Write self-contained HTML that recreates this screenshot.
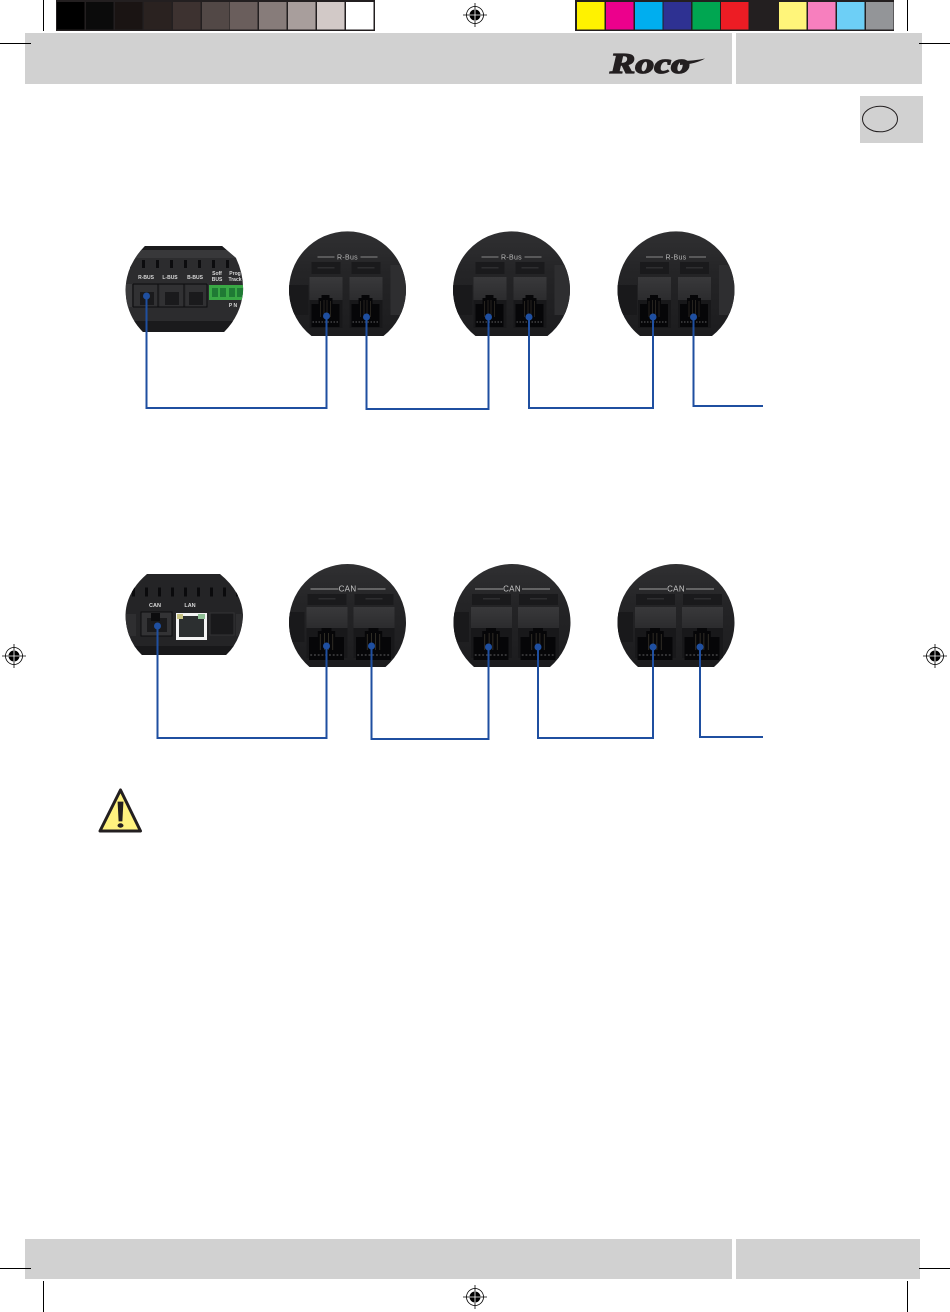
<!DOCTYPE html>
<html lang="en"><head><meta charset="utf-8"><title>Roco bus wiring</title>
<style>
html,body{margin:0;padding:0;background:#fff}
svg{display:block;font-family:"Liberation Sans",sans-serif}
</style></head><body>
<svg width="950" height="1312" viewBox="0 0 950 1312" xmlns="http://www.w3.org/2000/svg">
<defs>
<linearGradient id="bg" x1="0" y1="0" x2="0" y2="1"><stop offset="0" stop-color="#303032"/><stop offset=".4" stop-color="#242426"/><stop offset="1" stop-color="#1c1c1e"/></linearGradient>
<linearGradient id="hs" x1="0" y1="0" x2="0" y2="1"><stop offset="0" stop-color="#39393b"/><stop offset="1" stop-color="#2b2b2d"/></linearGradient>
<clipPath id="cR"><path d="M-36 46A58.500 58.500 0 1 1 36 46Z"/></clipPath>
<clipPath id="cC"><path d="M-38 45A58.500 58.500 0 1 1 38 45Z"/></clipPath>
<clipPath id="cU1"><path d="M145 246H222L236 258Q244 275 243 292Q241 315 224 332H143Q126 315 125.500 290Q126 265 145 246Z"/></clipPath>
<clipPath id="cU2"><path d="M147 574H220Q242 592 243 615Q242 640 226 655H142Q126 640 125.500 615Q126 592 147 574Z"/></clipPath>
<g id="reg" fill="none" stroke="#000">
<circle r="8.500" stroke-width=".8"/><circle r="5.500" fill="#000" stroke="none"/>
<path d="M-12 0H12M0-12V12" stroke-width=".8"/><path d="M-5.500 0H5.500M0-5.500V5.500" stroke="#fff" stroke-width=".8"/>
</g>
<g id="sock">
<path d="M-14 1h7v-6h3v-3h8v3h3v6h7v23h-28z" fill="#060608"/>
<path d="M-5 -2v16M-1.500 -3v17M1.500 -3v17M5 -2v16" stroke="#3c382e" stroke-width=".6"/>
<path d="M-13 19h26" stroke="#333335" stroke-width="2" stroke-dasharray="1.500 1.500"/>
</g>
<g id="jackR">
<rect x="-14" y="-28" width="29" height="12" fill="#1a1a1c"/><rect x="-8" y="-23" width="17" height="1.500" fill="#2e2e30"/>
<rect x="-16" y="-13" width="33" height="24" fill="url(#hs)"/>
<rect x="-16" y="10" width="33" height="28" fill="#18181a"/>
<use href="#sock" y="13"/>
</g>
<g id="busR">
<path d="M-36 46A58.500 58.500 0 1 1 36 46Z" fill="url(#bg)"/>
<g clip-path="url(#cR)">
<rect x="43" y="-25" width="16" height="50" fill="#2e2e30"/>
<rect x="-59" y="-5" width="20" height="30" fill="#19191b"/>
<use href="#jackR" x="-22"/><use href="#jackR" x="18"/>
</g>
<path d="M-30-33H-13M13-33H30" stroke="#a8a8a8" stroke-width=".8"/>
<text x="0" y="-30.500" font-size="7" fill="#b8b8b8" text-anchor="middle" letter-spacing=".3">R-Bus</text>
</g>
<g id="jackC">
<rect x="-19" y="-28" width="39" height="11" fill="#1a1a1c"/><rect x="-8" y="-24" width="17" height="1.500" fill="#2e2e30"/>
<rect x="-20" y="-15" width="41" height="22" fill="url(#hs)"/>
<rect x="-20" y="6" width="41" height="30" fill="#18181a"/>
<g transform="translate(0,14) scale(1.250,1)"><use href="#sock"/></g>
</g>
<g id="busC">
<path d="M-38 45A58.500 58.500 0 1 1 38 45Z" fill="url(#bg)"/>
<g clip-path="url(#cC)">
<rect x="-59" y="-10" width="16" height="30" fill="#19191b"/>
<use href="#jackC" x="-21"/><use href="#jackC" x="26"/>
</g>
<path d="M-37-33H-9M10-33H38" stroke="#c5c5c5" stroke-width=".8"/>
<text x="0" y="-30.500" font-size="8" fill="#c8c8c8" text-anchor="middle" letter-spacing=".3">CAN</text>
</g>
</defs>

<rect width="950" height="1312" fill="#fff"/>

<!-- colour strips -->
<rect x="56" y="0" width="319" height="31" fill="#231f20"/>
<g>
<rect x="57" y="2" width="27.500" height="27.500" fill="#000"/>
<rect x="86" y="2" width="27.500" height="27.500" fill="#0b0b0b"/>
<rect x="115" y="2" width="27.500" height="27.500" fill="#1a1413"/>
<rect x="144" y="2" width="27.500" height="27.500" fill="#2a2220"/>
<rect x="173" y="2" width="27.500" height="27.500" fill="#3d3230"/>
<rect x="202" y="2" width="27.500" height="27.500" fill="#524846"/>
<rect x="230" y="2" width="27.500" height="27.500" fill="#6a5e5c"/>
<rect x="259" y="2" width="27.500" height="27.500" fill="#877c7a"/>
<rect x="288" y="2" width="27.500" height="27.500" fill="#a89e9c"/>
<rect x="317" y="2" width="27.500" height="27.500" fill="#d2c9c7"/>
<rect x="346" y="2" width="27.500" height="27.500" fill="#fff"/>
</g>
<rect x="575" y="0" width="319" height="31" fill="#231f20"/>
<g>
<rect x="577" y="2" width="27.500" height="27.500" fill="#fff200"/>
<rect x="606" y="2" width="27.500" height="27.500" fill="#ec008c"/>
<rect x="635" y="2" width="27.500" height="27.500" fill="#00aeef"/>
<rect x="663.500" y="2" width="27.500" height="27.500" fill="#2e3192"/>
<rect x="692.500" y="2" width="27.500" height="27.500" fill="#00a651"/>
<rect x="721" y="2" width="27.500" height="27.500" fill="#ed1c24"/>
<rect x="750" y="2" width="27.500" height="27.500" fill="#231f20"/>
<rect x="779" y="2" width="27.500" height="27.500" fill="#fff57a"/>
<rect x="808" y="2" width="27.500" height="27.500" fill="#f77fbe"/>
<rect x="837" y="2" width="27.500" height="27.500" fill="#6dcff6"/>
<rect x="866" y="2" width="27.500" height="27.500" fill="#939598"/>
</g>

<!-- header / footer bands -->
<rect x="25" y="33" width="707" height="51" fill="#d1d1d1"/>
<rect x="736" y="33" width="186" height="51" fill="#d1d1d1"/>
<rect x="25" y="1239" width="707" height="40" fill="#d1d1d1"/>
<rect x="736" y="1239" width="184" height="40" fill="#d1d1d1"/>

<!-- logo -->
<text x="610" y="73" font-family="'Liberation Serif',serif" font-size="28" font-weight="700" font-style="italic" fill="#231f20" textLength="80" lengthAdjust="spacingAndGlyphs" stroke="#231f20" stroke-width="1.300">Roco</text>
<path d="M680 61Q694 61 705 58.500Q696 64 680 65Z" fill="#231f20"/>

<!-- language tab -->
<rect x="860" y="96" width="63" height="47" fill="#d1d1d1"/>
<ellipse cx="880" cy="119" rx="17.500" ry="12.800" fill="none" stroke="#231f20" stroke-width="1"/>

<!-- crop marks -->
<path d="M43.500 0V31M0 43.500H31M907.500 0V31M919 43.500H950M0 1268.500H31M43.500 1281V1312M919 1268.500H950M907.500 1281V1312" stroke="#000" stroke-width="1" fill="none"/>
<use href="#reg" x="475" y="15"/><use href="#reg" x="475" y="1297"/>
<use href="#reg" x="14" y="656"/><use href="#reg" x="935" y="656"/>

<!-- R-BUS central unit -->
<path d="M145 246H222L236 258Q244 275 243 292Q241 315 224 332H143Q126 315 125.500 290Q126 265 145 246Z" fill="#2c2c2e"/>
<g clip-path="url(#cU1)">
<rect x="120" y="246" width="130" height="4" fill="#1a1a1c"/>
<rect x="120" y="250" width="130" height="8" fill="#38383a"/>
<path d="M128 264H242" stroke="#0c0c0e" stroke-width="8" stroke-dasharray="3 11"/>
<rect x="120" y="284" width="5" height="23" fill="#333335"/>
<rect x="126" y="284" width="6" height="23" fill="#3a3a3c"/>
<rect x="134" y="285" width="24" height="22" fill="#313133"/><rect x="160" y="285" width="24" height="22" fill="#313133"/><rect x="186" y="285" width="20.500" height="22" fill="#313133"/>
<rect x="140" y="292" width="14" height="13" fill="#1a1a1c"/><rect x="165" y="292" width="14" height="13" fill="#1a1a1c"/><rect x="189" y="292" width="14" height="13" fill="#1a1a1c"/>
<path d="M133 307H207V284M133 284H207M158 284V307M184 284V307M133 284V307" fill="none" stroke="#0c0c0e" stroke-width="1"/>
<rect x="120" y="321" width="130" height="12" fill="#1a1a1c"/>
<rect x="209" y="285" width="36" height="15" fill="#39a845"/>
<path d="M212 288h6v9h-6zM220 288h6v9h-6zM229 288h6v9h-6zM237 288h6v9h-6z" fill="#1f7a34"/>
</g>
<g fill="#d8d8d8" font-size="5" font-weight="700" text-anchor="middle">
<text x="146" y="279">R-BUS</text><text x="170" y="279">L-BUS</text><text x="195" y="279">B-BUS</text>
<text x="217" y="275">Soff</text><text x="217" y="281">BUS</text>
<text x="235" y="275">Prog</text><text x="235" y="281">Track</text>
<text x="233" y="307">P N</text>
</g>

<!-- R-Bus decoders -->
<use href="#busR" x="347.500" y="290"/>
<use href="#busR" x="511.500" y="290"/>
<use href="#busR" x="676" y="290"/>

<!-- CAN / LAN central unit -->
<path d="M147 574H220Q242 592 243 615Q242 640 226 655H142Q126 640 125.500 615Q126 592 147 574Z" fill="#242426"/>
<g clip-path="url(#cU2)">
<path d="M132 592H238" stroke="#0a0a0c" stroke-width="9" stroke-dasharray="3 10"/>
<rect x="125" y="614" width="11" height="22" fill="#2e2e30"/>
<rect x="141" y="612" width="31" height="24" fill="#333335" stroke="#0c0c0e"/>
<rect x="147" y="618" width="20" height="14" fill="#1a1a1c"/><rect x="151" y="613" width="9" height="8" fill="#0c0c0e"/>
<rect x="176" y="613" width="31" height="27" fill="#f4f4f4"/>
<rect x="179" y="616" width="25" height="21" fill="#2c2f30"/>
<rect x="177" y="614" width="6" height="5" fill="#c9c484"/><rect x="198" y="614" width="7" height="5" fill="#8fbf95"/>
<rect x="210" y="613" width="24" height="22" fill="#19191b" stroke="#333335"/>
<rect x="236" y="614" width="8" height="22" fill="#2e2e30"/>
<rect x="120" y="646" width="130" height="10" fill="#18181a"/>
</g>
<g fill="#d8d8d8" font-size="5.500" font-weight="700" text-anchor="middle">
<text x="155" y="607">CAN</text><text x="190" y="607">LAN</text>
</g>

<!-- CAN decoders -->
<use href="#busC" x="347.500" y="622"/>
<use href="#busC" x="512" y="622"/>
<use href="#busC" x="676" y="622"/>

<!-- wiring -->
<g fill="none" stroke="#1f4fa0" stroke-width="2">
<path d="M146.500 296V408H326.500V315"/>
<path d="M366.500 317V409H488.500V317"/>
<path d="M529 317V408H653V317"/>
<path d="M693.500 317V406H763"/>
<path d="M157.500 626V738H326.500V646"/>
<path d="M371.500 646V739H488.500V646"/>
<path d="M538 647V738H653V646"/>
<path d="M700 647V737H763"/>
</g>
<g fill="#1f4fa0">
<circle cx="146.500" cy="296" r="3.500"/><circle cx="326.500" cy="316" r="3.500"/><circle cx="366.500" cy="317" r="3.500"/><circle cx="488.500" cy="317" r="3.500"/><circle cx="529" cy="317" r="3.500"/><circle cx="653" cy="317" r="3.500"/><circle cx="693.500" cy="317" r="3.500"/>
<circle cx="157.500" cy="626" r="3.500"/><circle cx="326.500" cy="646" r="3.500"/><circle cx="371.500" cy="646" r="3.500"/><circle cx="488.500" cy="647" r="3.500"/><circle cx="538" cy="647" r="3.500"/><circle cx="653" cy="647" r="3.500"/><circle cx="700" cy="647" r="3.500"/>
</g>

<!-- warning triangle -->
<path d="M120.500 790L140.500 831H100Z" fill="#fff27f" stroke="#231f20" stroke-width="3" stroke-linejoin="round"/>
<path d="M118 802H123L122 821H119Z" fill="#231f20" stroke="#231f20" stroke-width=".8"/>
<ellipse cx="120.500" cy="825.500" rx="3" ry="2.200" fill="#231f20"/>
</svg>
</body></html>
